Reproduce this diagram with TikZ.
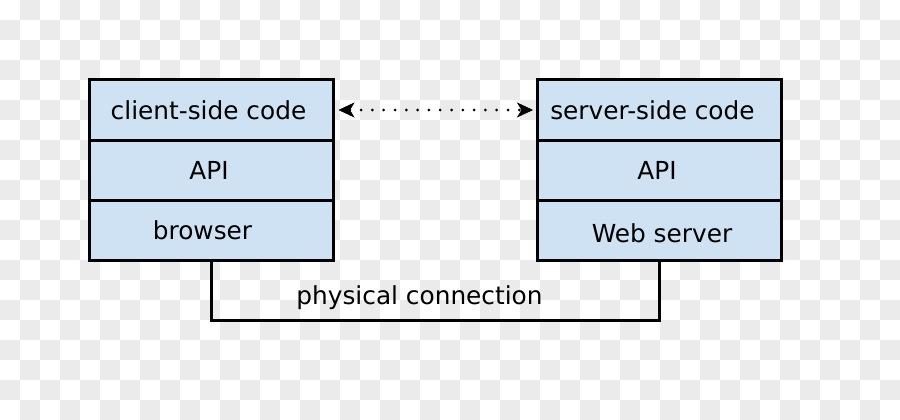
\documentclass[tikz,border=0pt]{standalone}
\usepackage{fontspec}
\setmainfont{DejaVu Sans}
\usetikzlibrary{arrows.meta}
\definecolor{boxblue}{RGB}{207,226,243}
\definecolor{checker}{RGB}{235,235,235}
\tikzset{
  layer/.style={draw=black, line width=3pt, fill=boxblue, minimum width=244pt, minimum height=60pt, inner sep=0pt},
  wire/.style={draw=black, line width=3pt},
  lbl/.style={font=\fontsize{24.8}{29}\selectfont, inner sep=0pt},
  bigtip/.tip={Stealth[length=16pt,width=15pt,inset=4.5pt,line width=0.5pt]}
}
\begin{document}
\begin{tikzpicture}[x=1pt,y=-1pt]
\useasboundingbox (0,0) rectangle (900,420);
\fill[white] (0,0) rectangle (900,420);
\foreach \j in {0,2,...,20}{\foreach \i in {1,3,...,43}{\fill[checker] (\i*20,\j*20) rectangle ++(20,20);}}
\foreach \j in {1,3,...,21}{\foreach \i in {0,2,...,44}{\fill[checker] (\i*20,\j*20) rectangle ++(20,20);}}
% left stack
\node[layer] (lc) at (211,110) {};
\node[layer] (la) at (211,170) {};
\node[layer] (lb) at (211,230) {};
\node[lbl] (lct) at (208.5,110) {client-side code};
\node[lbl] (lat) at (209,170) {API};
\node[lbl] (lbt) at (202.5,230) {browser};
% right stack
\node[layer] (rc) at (659.5,110) {};
\node[layer] (ra) at (659.5,170) {};
\node[layer] (rb) at (659.5,230) {};
\node[lbl] (rct) at (652.5,110) {server-side code};
\node[lbl] (rat) at (657,170) {API};
\node[lbl] (rbt) at (662,233) {Web server};
% dotted arrow
\draw[line width=3pt, line cap=round, dash pattern=on 0pt off 11.3pt, bigtip-bigtip, shorten <=4pt, shorten >=3pt] (lc.east) -- (rc.west);
% physical connection
\draw[wire] (lb.south) -- ++(0,59) -| (rb.south);
\node[lbl] (pc) at (419.5,297.5) {physical connection};
\end{tikzpicture}
\end{document}
